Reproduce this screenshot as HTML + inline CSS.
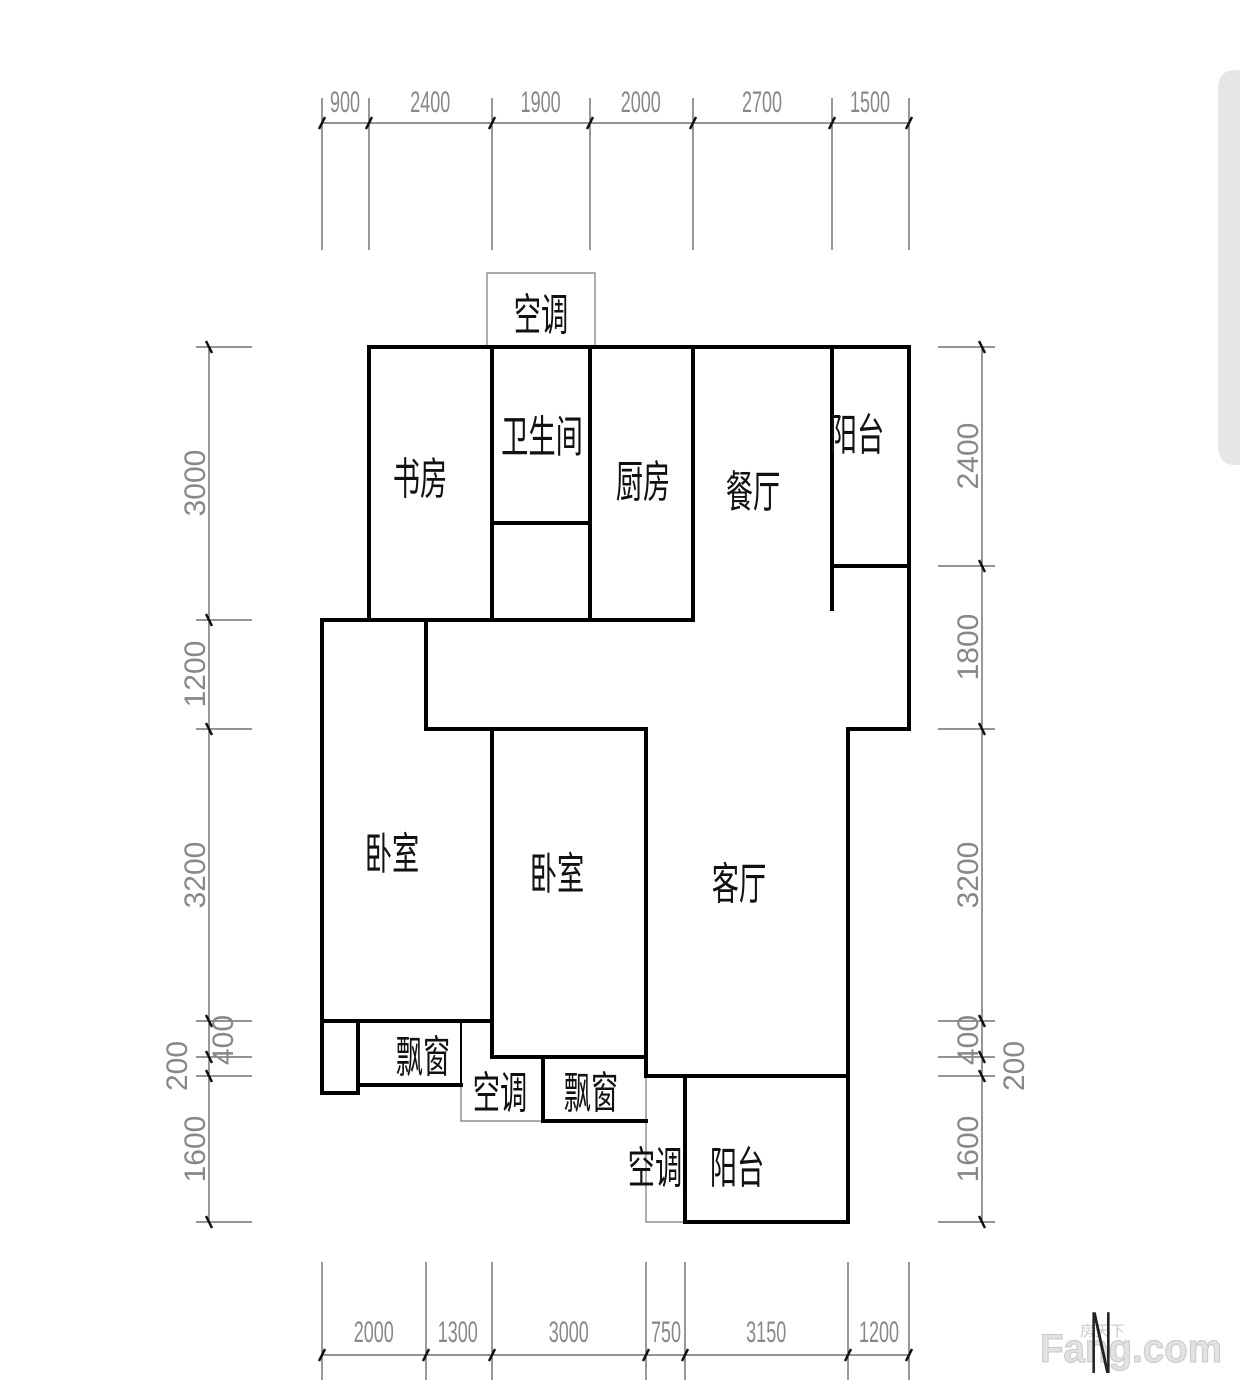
<!DOCTYPE html>
<html><head><meta charset="utf-8"><style>
html,body{margin:0;padding:0;background:#fff;}
svg{display:block;}
.d{font-family:"Liberation Sans",sans-serif;font-size:30px;fill:#888;}
.r{font-family:"Liberation Sans","Noto Sans CJK SC",sans-serif;font-size:44px;fill:#111;}
</style></head><body>
<svg width="1240" height="1386" viewBox="0 0 1240 1386" xmlns="http://www.w3.org/2000/svg">
<rect width="1240" height="1386" fill="#fff"/>
<path d="M1240 70 L1235 70 Q1218 70 1218 90 L1218 445 Q1218 465 1235 465 L1240 465 Z" fill="#e6e6e6"/>
<g stroke="#555" stroke-width="1.2" fill="none">
<line x1="322" y1="123" x2="909" y2="123"/>
<line x1="322" y1="98" x2="322" y2="250"/><line x1="369" y1="98" x2="369" y2="250"/><line x1="492" y1="98" x2="492" y2="250"/><line x1="590" y1="98" x2="590" y2="250"/><line x1="693" y1="98" x2="693" y2="250"/><line x1="832" y1="98" x2="832" y2="250"/><line x1="909" y1="98" x2="909" y2="250"/>
<line x1="322" y1="1355" x2="909" y2="1355"/>
<line x1="322" y1="1262" x2="322" y2="1380"/><line x1="426" y1="1262" x2="426" y2="1380"/><line x1="492" y1="1262" x2="492" y2="1380"/><line x1="646" y1="1262" x2="646" y2="1380"/><line x1="685" y1="1262" x2="685" y2="1380"/><line x1="848" y1="1262" x2="848" y2="1380"/><line x1="909" y1="1262" x2="909" y2="1380"/>
<line x1="209" y1="347" x2="209" y2="1222"/>
<line x1="196" y1="347" x2="252" y2="347"/><line x1="196" y1="620" x2="252" y2="620"/><line x1="196" y1="729" x2="252" y2="729"/><line x1="196" y1="1021" x2="252" y2="1021"/><line x1="196" y1="1057" x2="252" y2="1057"/><line x1="196" y1="1076" x2="252" y2="1076"/><line x1="196" y1="1222" x2="252" y2="1222"/>
<line x1="982" y1="347" x2="982" y2="1222"/>
<line x1="938" y1="347" x2="995" y2="347"/><line x1="938" y1="566" x2="995" y2="566"/><line x1="938" y1="729" x2="995" y2="729"/><line x1="938" y1="1021" x2="995" y2="1021"/><line x1="938" y1="1057" x2="995" y2="1057"/><line x1="938" y1="1076" x2="995" y2="1076"/><line x1="938" y1="1222" x2="995" y2="1222"/>
</g>
<g stroke="#111" stroke-width="2.5">
<line x1="319" y1="129" x2="325" y2="117"/><line x1="366" y1="129" x2="372" y2="117"/><line x1="489" y1="129" x2="495" y2="117"/><line x1="587" y1="129" x2="593" y2="117"/><line x1="690" y1="129" x2="696" y2="117"/><line x1="829" y1="129" x2="835" y2="117"/><line x1="906" y1="129" x2="912" y2="117"/>
<line x1="319" y1="1361" x2="325" y2="1349"/><line x1="423" y1="1361" x2="429" y2="1349"/><line x1="489" y1="1361" x2="495" y2="1349"/><line x1="643" y1="1361" x2="649" y2="1349"/><line x1="682" y1="1361" x2="688" y2="1349"/><line x1="845" y1="1361" x2="851" y2="1349"/><line x1="906" y1="1361" x2="912" y2="1349"/>
<line x1="206" y1="341" x2="212" y2="353"/><line x1="206" y1="614" x2="212" y2="626"/><line x1="206" y1="723" x2="212" y2="735"/><line x1="206" y1="1015" x2="212" y2="1027"/><line x1="206" y1="1051" x2="212" y2="1063"/><line x1="206" y1="1070" x2="212" y2="1082"/><line x1="206" y1="1216" x2="212" y2="1228"/>
<line x1="979" y1="341" x2="985" y2="353"/><line x1="979" y1="560" x2="985" y2="572"/><line x1="979" y1="723" x2="985" y2="735"/><line x1="979" y1="1015" x2="985" y2="1027"/><line x1="979" y1="1051" x2="985" y2="1063"/><line x1="979" y1="1070" x2="985" y2="1082"/><line x1="979" y1="1216" x2="985" y2="1228"/>
</g>
<g class="d" text-anchor="middle">
<g transform="scale(0.6,1)">
<text x="575" y="112">900</text><text x="717" y="112">2400</text><text x="901" y="112">1900</text><text x="1068" y="112">2000</text><text x="1270" y="112">2700</text><text x="1450" y="112">1500</text>
<text x="623" y="1342">2000</text><text x="763" y="1342">1300</text><text x="948" y="1342">3000</text><text x="1110" y="1342">750</text><text x="1277" y="1342">3150</text><text x="1465" y="1342">1200</text>
</g>
<text transform="translate(205,483) rotate(-90)">3000</text>
<text transform="translate(205,674) rotate(-90)">1200</text>
<text transform="translate(205,875) rotate(-90)">3200</text>
<text transform="translate(233,1040) rotate(-90)">400</text>
<text transform="translate(187,1066) rotate(-90)">200</text>
<text transform="translate(205,1149) rotate(-90)">1600</text>
<text transform="translate(978,456) rotate(-90)">2400</text>
<text transform="translate(978,647) rotate(-90)">1800</text>
<text transform="translate(978,875) rotate(-90)">3200</text>
<text transform="translate(978,1040) rotate(-90)">400</text>
<text transform="translate(1024,1066) rotate(-90)">200</text>
<text transform="translate(978,1149) rotate(-90)">1600</text>
</g>
<g stroke="#777" stroke-width="1.2" fill="none">
<polyline points="487,347 487,273 595,273 595,347"/>
<polyline points="461,1021 461,1121 543,1121"/>
<polyline points="646,1076 646,1222 685,1222"/>
</g>
<g stroke="#000" stroke-width="4" fill="none" stroke-linecap="square">
<line x1="369" y1="347" x2="909" y2="347"/>
<line x1="369" y1="347" x2="369" y2="620"/>
<line x1="322" y1="620" x2="693" y2="620"/>
<line x1="492" y1="347" x2="492" y2="620"/>
<line x1="590" y1="347" x2="590" y2="620"/>
<line x1="693" y1="347" x2="693" y2="620"/>
<line x1="492" y1="523" x2="590" y2="523"/>
<line x1="832" y1="347" x2="832" y2="609"/>
<line x1="832" y1="566" x2="909" y2="566"/>
<line x1="909" y1="347" x2="909" y2="729"/>
<line x1="848" y1="729" x2="909" y2="729"/>
<line x1="848" y1="729" x2="848" y2="1222"/>
<line x1="426" y1="620" x2="426" y2="729"/>
<line x1="426" y1="729" x2="646" y2="729"/>
<line x1="492" y1="729" x2="492" y2="1057"/>
<line x1="646" y1="729" x2="646" y2="1076"/>
<line x1="322" y1="620" x2="322" y2="1093"/>
<line x1="322" y1="1021" x2="492" y2="1021"/>
<line x1="322" y1="1093" x2="358" y2="1093"/>
<line x1="358" y1="1021" x2="358" y2="1093"/>
<line x1="358" y1="1085" x2="461" y2="1085"/>
<line x1="492" y1="1057" x2="646" y2="1057"/>
<line x1="543" y1="1057" x2="543" y2="1121"/>
<line x1="543" y1="1121" x2="646" y2="1121"/>
<line x1="646" y1="1076" x2="848" y2="1076"/>
<line x1="685" y1="1076" x2="685" y2="1222"/>
<line x1="685" y1="1222" x2="848" y2="1222"/>
</g>
<line x1="461" y1="1021" x2="461" y2="1085" stroke="#000" stroke-width="2"/>
<g class="r" text-anchor="middle">
<text transform="translate(541,330) scale(0.62,1)">空调</text>
<text transform="translate(420,494) scale(0.62,1)">书房</text>
<text transform="translate(542,452) scale(0.62,1)">卫生间</text>
<text transform="translate(643,497) scale(0.62,1)">厨房</text>
<text transform="translate(753,507) scale(0.62,1)">餐厅</text>
<text transform="translate(857,450) scale(0.62,1)">阳台</text>
<text transform="translate(392,869) scale(0.62,1)">卧室</text>
<text transform="translate(557,889) scale(0.62,1)">卧室</text>
<text transform="translate(739,899) scale(0.62,1)">客厅</text>
<text transform="translate(423,1072) scale(0.62,1)">飘窗</text>
<text transform="translate(500,1108) scale(0.62,1)">空调</text>
<text transform="translate(591,1108) scale(0.62,1)">飘窗</text>
<text transform="translate(655,1183) scale(0.62,1)">空调</text>
<text transform="translate(737,1183) scale(0.62,1)">阳台</text>
</g>
<text x="1040" y="1362" font-family="Liberation Sans,sans-serif" font-size="40" font-weight="bold" fill="#e2e2e2" stroke="#c8c8c8" stroke-width="1" textLength="182" lengthAdjust="spacingAndGlyphs">Fang.com</text>
<text x="1080" y="1336" font-family="Liberation Sans,Noto Sans CJK SC,sans-serif" font-size="15" fill="#ccc">房天下</text>
<text transform="translate(1101,1373) scale(0.35,1)" text-anchor="middle" font-family="Liberation Sans,sans-serif" font-size="88" fill="#222">N</text>
</svg>
</body></html>
